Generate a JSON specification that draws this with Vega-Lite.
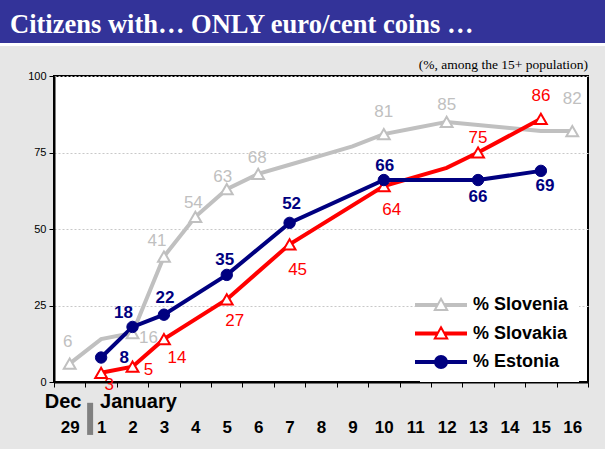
{
  "$schema": "https://vega.github.io/schema/vega-lite/v6.json",
  "width": 534,
  "height": 306,
  "autosize": {"type": "none"},
  "padding": {"left": 54, "top": 76, "right": 17, "bottom": 67},
  "background": "#e6e6e6",
  "config": {
    "view": {"stroke": "black", "strokeWidth": 2, "fill": "white"},
    "font": "Liberation Sans"
  },
  "data": {
    "values": [
      {"country": "Slovenia", "day": "29", "value": 6},
      {"country": "Slovenia", "day": "1", "value": 14},
      {"country": "Slovenia", "day": "2", "value": 16},
      {"country": "Slovenia", "day": "3", "value": 41},
      {"country": "Slovenia", "day": "4", "value": 54},
      {"country": "Slovenia", "day": "5", "value": 63},
      {"country": "Slovenia", "day": "6", "value": 68},
      {"country": "Slovenia", "day": "7", "value": 71},
      {"country": "Slovenia", "day": "8", "value": 74},
      {"country": "Slovenia", "day": "9", "value": 77},
      {"country": "Slovenia", "day": "10", "value": 81},
      {"country": "Slovenia", "day": "11", "value": 83},
      {"country": "Slovenia", "day": "12", "value": 85},
      {"country": "Slovenia", "day": "13", "value": 84},
      {"country": "Slovenia", "day": "14", "value": 83},
      {"country": "Slovenia", "day": "15", "value": 82},
      {"country": "Slovenia", "day": "16", "value": 82},
      {"country": "Slovakia", "day": "1", "value": 3},
      {"country": "Slovakia", "day": "2", "value": 5},
      {"country": "Slovakia", "day": "3", "value": 14},
      {"country": "Slovakia", "day": "5", "value": 27},
      {"country": "Slovakia", "day": "7", "value": 45},
      {"country": "Slovakia", "day": "10", "value": 64},
      {"country": "Slovakia", "day": "12", "value": 70},
      {"country": "Slovakia", "day": "13", "value": 75},
      {"country": "Slovakia", "day": "15", "value": 86},
      {"country": "Estonia", "day": "1", "value": 8},
      {"country": "Estonia", "day": "2", "value": 18},
      {"country": "Estonia", "day": "3", "value": 22},
      {"country": "Estonia", "day": "5", "value": 35},
      {"country": "Estonia", "day": "7", "value": 52},
      {"country": "Estonia", "day": "10", "value": 66},
      {"country": "Estonia", "day": "13", "value": 66},
      {"country": "Estonia", "day": "15", "value": 69}
    ]
  },
  "layer": [
    {
      "data": {"values": [{}]},
      "mark": {"type": "rect", "fill": "#333399"},
      "encoding": {"x": {"value": -54}, "x2": {"value": 551}, "y": {"value": -76}, "y2": {"value": -33}}
    },
    {
      "data": {"values": [{}]},
      "mark": {"type": "rect", "fill": "white"},
      "encoding": {"x": {"value": -54}, "x2": {"value": 551}, "y": {"value": -33}, "y2": {"value": -30}}
    },
    {
      "data": {"values": [{}]},
      "mark": {"type": "text", "text": "Citizens with… ONLY euro/cent coins …", "font": "Liberation Serif", "fontSize": 26.5, "fontWeight": "bold", "color": "white", "align": "left", "baseline": "alphabetic"},
      "encoding": {"x": {"value": -44}, "y": {"value": -43}}
    },
    {
      "data": {"values": [{}]},
      "mark": {"type": "text", "text": "(%, among the 15+ population)", "font": "Liberation Serif", "fontSize": 13.5, "color": "black", "align": "right", "baseline": "alphabetic"},
      "encoding": {"x": {"value": 534}, "y": {"value": -7}}
    },
    {
      "mark": {"type": "line", "strokeWidth": 4},
      "encoding": {
        "x": {
          "field": "day", "type": "ordinal",
          "scale": {"type": "band", "domain": ["29","1","2","3","4","5","6","7","8","9","10","11","12","13","14","15","16"], "paddingInner": 0, "paddingOuter": 0},
          "axis": {"title": null, "labelAngle": 0, "labelFontSize": 17, "labelFontWeight": "bold", "labelColor": "black", "labelPadding": 32, "tickSize": 5, "tickColor": "black", "tickBand": "extent", "domainColor": "black", "domainWidth": 2, "grid": false}
        },
        "y": {
          "field": "value", "type": "quantitative",
          "scale": {"domain": [0, 100], "nice": false},
          "axis": {"title": null, "values": [0, 25, 50, 75, 100], "labelFontSize": 11, "labelColor": "black", "labelPadding": 3, "tickSize": 5, "tickColor": "black", "domainColor": "black", "domainWidth": 2, "grid": true, "gridDash": [2, 2], "gridColor": "#c8c8c8", "gridWidth": 1}
        },
        "color": {
          "field": "country", "type": "nominal",
          "scale": {"domain": ["Slovenia", "Slovakia", "Estonia"], "range": ["#c0c0c0", "#ff0000", "#000080"]},
          "legend": {
            "title": null, "orient": "none", "legendX": 366, "legendY": 208,
            "fillColor": "white", "padding": 10,
            "labelExpr": "'% ' + datum.label",
            "labelFont": "Liberation Sans", "labelFontSize": 18, "labelFontWeight": "bold", "labelColor": "black",
            "labelOffset": 21, "symbolSize": 400, "rowPadding": 8.5, "symbolStrokeWidth": 2,
            "encode": {
              "symbols": {
                "update": {
                  "shape": {"signal": "datum.value == 'Estonia' ? 'M-2.5,-0.1L-0.4,-0.1L-0.4,0.1L-2.5,0.1Z M0.4,-0.1L2.5,-0.1L2.5,0.1L0.4,0.1Z M0.6,0A0.6,0.6,0,1,1,-0.6,0A0.6,0.6,0,1,1,0.6,0Z' : 'M-2.5,-0.1L-0.4,-0.1L-0.4,0.1L-2.5,0.1Z M0.4,-0.1L2.5,-0.1L2.5,0.1L0.4,0.1Z M0,-0.62L0.62,0.5L-0.62,0.5Z'"},
                  "fill": {"signal": "datum.value == 'Estonia' ? '#000080' : 'white'"},
                  "strokeWidth": {"value": 2}
                }
              }
            }
          }
        },
        "order": {"value": null}
      }
    },
    {
      "transform": [
        {"filter": "datum.country == 'Slovenia'"},
        {"filter": "indexof(['1','7','8','9','11','13','14','15'], datum.day) < 0"}
      ],
      "mark": {"type": "point", "shape": "triangle-up", "strokeWidth": 2, "opacity": 1, "size": 140, "stroke": "#c0c0c0", "fill": "white"},
      "encoding": {
        "x": {"field": "day", "type": "ordinal"},
        "y": {"field": "value", "type": "quantitative"}
      }
    },
    {
      "transform": [
        {"filter": "datum.country == 'Slovakia'"},
        {"filter": "datum.day != '12'"}
      ],
      "mark": {"type": "point", "shape": "triangle-up", "strokeWidth": 2, "opacity": 1, "size": 140, "stroke": "#ff0000", "fill": "white"},
      "encoding": {
        "x": {"field": "day", "type": "ordinal"},
        "y": {"field": "value", "type": "quantitative"}
      }
    },
    {
      "transform": [{"filter": "datum.country == 'Estonia'"}],
      "mark": {"type": "point", "shape": "circle", "strokeWidth": 1, "opacity": 1, "size": 130, "stroke": "#000080", "fill": "#000080"},
      "encoding": {
        "x": {"field": "day", "type": "ordinal"},
        "y": {"field": "value", "type": "quantitative"}
      }
    },
    {
      "transform": [
        {"filter": "datum.country == 'Slovenia'"},
        {"filter": "indexof(['1','7','8','9','11','13','14','15'], datum.day) < 0"}
      ],
      "mark": {
        "type": "text", "fontSize": 17, "color": "#c0c0c0", "baseline": "middle",
        "dx": {"expr": "datum.day=='29'?-2:datum.day=='2'?16:datum.day=='3'?-7:datum.day=='4'?-2:datum.day=='5'?-4:datum.day=='6'?-1:0"},
        "dy": {"expr": "datum.day=='29'?-22:datum.day=='2'?5:datum.day=='3'?-16:datum.day=='4'?-14:datum.day=='5'?-12:datum.day=='6'?-16:datum.day=='10'?-22:datum.day=='12'?-17:datum.day=='16'?-32:-18"}
      },
      "encoding": {
        "x": {"field": "day", "type": "ordinal"},
        "y": {"field": "value", "type": "quantitative"},
        "text": {"field": "value", "type": "quantitative"}
      }
    },
    {
      "transform": [
        {"filter": "datum.country == 'Slovakia'"},
        {"filter": "datum.day != '12'"}
      ],
      "mark": {
        "type": "text", "fontSize": 17, "color": "#ff0000", "baseline": "middle",
        "dx": {"expr": "datum.day=='1'?8:datum.day=='2'?16:datum.day=='3'?13:datum.day=='5'?8:datum.day=='7'?8:datum.day=='10'?8:0"},
        "dy": {"expr": "datum.day=='1'?12:datum.day=='2'?3:datum.day=='3'?19:datum.day=='5'?22:datum.day=='7'?26:datum.day=='10'?24:datum.day=='13'?-15:-23"}
      },
      "encoding": {
        "x": {"field": "day", "type": "ordinal"},
        "y": {"field": "value", "type": "quantitative"},
        "text": {"field": "value", "type": "quantitative"}
      }
    },
    {
      "transform": [{"filter": "datum.country == 'Estonia'"}],
      "mark": {
        "type": "text", "fontSize": 17, "fontWeight": "bold", "color": "#000080", "baseline": "middle",
        "dx": {"expr": "datum.day=='1'?23:datum.day=='2'?-9:datum.day=='3'?1:datum.day=='5'?-2:datum.day=='7'?2:datum.day=='10'?1:datum.day=='15'?4:0"},
        "dy": {"expr": "datum.day=='1'?0:datum.day=='2'?-14:datum.day=='3'?-17:datum.day=='5'?-15:datum.day=='7'?-19:datum.day=='10'?-14:datum.day=='13'?17:15"}
      },
      "encoding": {
        "x": {"field": "day", "type": "ordinal"},
        "y": {"field": "value", "type": "quantitative"},
        "text": {"field": "value", "type": "quantitative"}
      }
    },
    {
      "data": {"values": [{"day": "29", "month": "Dec"}, {"day": "1", "month": "January"}]},
      "mark": {"type": "text", "fontSize": 20, "fontWeight": "bold", "color": "black", "align": "left", "baseline": "middle",
        "dx": {"expr": "datum.month=='Dec'?-25:-1"}},
      "encoding": {
        "x": {"field": "day", "type": "ordinal"},
        "y": {"datum": -6.5, "type": "quantitative"},
        "text": {"field": "month", "type": "nominal"}
      }
    },
    {
      "data": {"values": [{"day": "1"}]},
      "mark": {"type": "rule", "color": "#808080", "strokeWidth": 6},
      "encoding": {
        "x": {"field": "day", "type": "ordinal", "bandPosition": 0.15},
        "y": {"datum": -6.8, "type": "quantitative"},
        "y2": {"datum": -17.3}
      }
    }
  ]
}
